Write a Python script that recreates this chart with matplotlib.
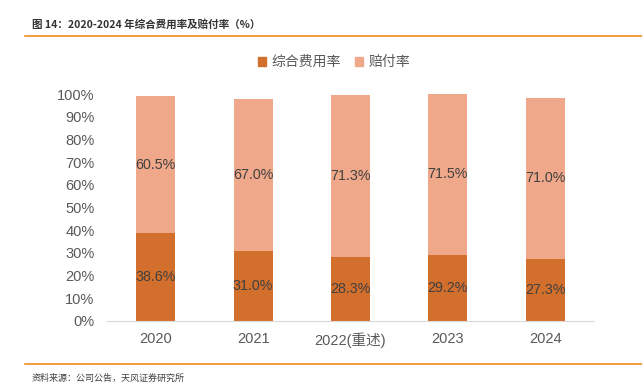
import matplotlib
matplotlib.use("Agg")
import matplotlib.pyplot as plt
from matplotlib.lines import Line2D
from matplotlib.patches import Patch

plt.rcParams['font.family'] = ['Liberation Sans', 'Noto Sans CJK SC']

years = ["2020", "2021", "2022(重述)", "2023", "2024"]
expense_ratio = [38.6, 31.0, 28.3, 29.2, 27.3]
loss_ratio = [60.5, 67.0, 71.3, 71.5, 71.0]
yticks = list(range(0, 101, 10))

dark = "#D36F2C"
light = "#F0A88A"
text_gray = "#595959"


def main():
    fig = plt.figure(figsize=(6.42, 3.87), dpi=100)
    ax = fig.add_axes([107 / 642, 1 - 321 / 387, (594 - 107) / 642, (321 - 94) / 387])

    x = list(range(len(years)))
    ax.bar(x, expense_ratio, width=0.4, color=dark, label="综合费用率")
    ax.bar(x, loss_ratio, width=0.4, bottom=expense_ratio, color=light, label="赔付率")

    for i in x:
        ax.text(i, expense_ratio[i] / 2, f"{expense_ratio[i]:.1f}%", ha="center", va="center",
                fontsize=10.3, color="#404040")
        ax.text(i, expense_ratio[i] + loss_ratio[i] / 2, f"{loss_ratio[i]:.1f}%", ha="center",
                va="center", fontsize=10.3, color="#404040")

    ax.set_xlim(-0.5, len(years) - 0.5)
    ax.set_ylim(0, 100)
    ax.set_yticks(yticks)
    ax.set_yticklabels([f"{v}%" for v in yticks])
    ax.set_xticks(x)
    ax.set_xticklabels(years)
    ax.tick_params(axis="both", length=0, labelsize=10.5, labelcolor=text_gray)
    ax.tick_params(axis="y", pad=9)
    ax.tick_params(axis="x", pad=8)
    for side in ["top", "right", "left"]:
        ax.spines[side].set_visible(False)
    ax.spines["bottom"].set_color("#D9D9D9")

    handles = [Patch(color=dark), Patch(color=light)]
    fig.legend(handles, ["综合费用率", "赔付率"], loc="center", bbox_to_anchor=(334 / 642, 1 - 62 / 387),
               ncol=2, frameon=False, fontsize=10, labelcolor=text_gray, handlelength=0.6,
               handleheight=0.6, handletextpad=0.4, columnspacing=1.0)

    fig.text(32 / 642, 1 - 24 / 387, "图 14：2020-2024 年综合费用率及赔付率（%）", fontsize=7.6,
             fontweight="bold", color="#333333", va="center", family=["Noto Sans CJK SC"])
    fig.add_artist(Line2D([25 / 642, 1], [1 - 36 / 387] * 2, color="#F08A24", lw=1.2))
    fig.add_artist(Line2D([25 / 642, 1], [1 - 364 / 387] * 2, color="#F08A24", lw=1.2))
    fig.text(32 / 642, 1 - 378 / 387, "资料来源：公司公告，天风证券研究所", fontsize=6.5,
             color="#404040", va="center", family=["Noto Sans CJK SC"])

    fig.savefig("out.png", dpi=100)


if __name__ == "__main__":
    main()
